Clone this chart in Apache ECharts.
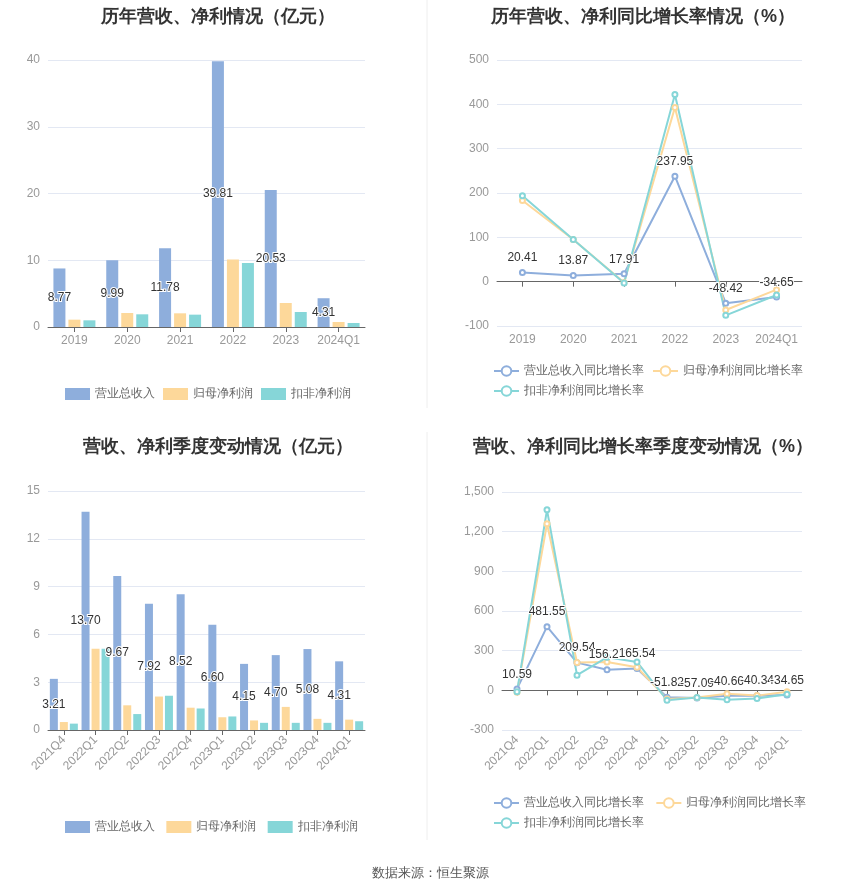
<!DOCTYPE html>
<html><head><meta charset="utf-8">
<script src="https://cdn.jsdelivr.net/npm/echarts@6/dist/echarts.min.js"></script>
<style>html,body{margin:0;padding:0;background:#fff}#c{width:850px;height:891px}</style>
</head><body><div id="c"></div>
<script>
const years = ['2019','2020','2021','2022','2023','2024Q1'];
const yRevenue = [8.77, 9.99, 11.78, 39.81, 20.53, 4.31];
const yNetProfit = [1.1, 2.1, 2.05, 10.1, 3.6, 0.75];
const yDeducted = [1.0, 1.9, 1.85, 9.6, 2.25, 0.6];
const yRevGrowth = [20.41, 13.87, 17.91, 237.95, -48.42, -34.65];
const yNetGrowth = [183, 95, -2, 393, -64, -18];
const yDedGrowth = [194, 95, -3, 422, -76, -30];

const quarters = ['2021Q4','2022Q1','2022Q2','2022Q3','2022Q4','2023Q1','2023Q2','2023Q3','2023Q4','2024Q1'];
const qRevenue = [3.21, 13.70, 9.67, 7.92, 8.52, 6.60, 4.15, 4.70, 5.08, 4.31];
const qNetProfit = [0.5, 5.1, 1.55, 2.1, 1.4, 0.8, 0.6, 1.45, 0.7, 0.65];
const qDeducted = [0.4, 5.1, 1.0, 2.15, 1.35, 0.85, 0.45, 0.45, 0.45, 0.55];
const qRevGrowth = [10.59, 481.55, 209.54, 156.21, 165.54, -51.82, -57.09, -40.66, -40.34, -34.65];
const qNetGrowth = [-15, 1260, 210, 215, 175, -65, -55, -25, -40, -10];
const qDedGrowth = [-10, 1365, 115, 250, 215, -75, -55, -72, -62, -30];

const C = ['#8eaedc', '#fdd89a', '#86d6d8'];
const axisLabel = {color:'#999', fontSize:12};
const splitLine = {lineStyle:{color:'#e3e8f3'}};
function xAx(i, data, rot){return {type:'category', gridIndex:i, data, axisTick:{show:true, alignWithLabel:true, lineStyle:{color:'#666'}}, axisLine:{lineStyle:{color:'#666'}}, axisLabel:Object.assign({}, axisLabel, rot?{rotate:45, interval:0}:{interval:0})};}
function yAx(i, min, max, interval, fmt){return {type:'value', gridIndex:i, min, max, interval, axisLabel:Object.assign({}, axisLabel, fmt?{formatter:v=>v.toLocaleString('en-US')}:{}), splitLine, axisLine:{show:false}, axisTick:{show:false}};}
const barLabel = {show:true, position:'inside', color:'#333', fontSize:12, textBorderColor:'#fff', textBorderWidth:2, formatter:p=>p.value.toFixed(2)};
function bar(name, data, i, ci, lab){return {type:'bar', name, data, xAxisIndex:i, yAxisIndex:i, barWidth:12, barGap:'25%', itemStyle:{color:C[ci]}, label: lab?barLabel:{show:false}};}
function line(name, data, i, ci, lab){return {type:'line', name, data, xAxisIndex:i, yAxisIndex:i, symbol:'emptyCircle', symbolSize:5, lineStyle:{color:C[ci], width:2}, itemStyle:{color:C[ci]}, label: lab?{show:true, position:'top', color:'#333', fontSize:12, textBorderColor:'#fff', textBorderWidth:2, formatter:p=>p.value.toFixed(2)}:{show:false}};}
const titleStyle = {fontSize:18, fontWeight:'bold', color:'#333'};
const legText = {color:'#666', fontSize:12};

const option = {
  animation:false,
  title:[
    {text:'历年营收、净利情况（亿元）', left:213, top:3, textAlign:'center', textStyle:titleStyle},
    {text:'历年营收、净利同比增长率情况（%）', left:638, top:3, textAlign:'center', textStyle:titleStyle},
    {text:'营收、净利季度变动情况（亿元）', left:213, top:433, textAlign:'center', textStyle:titleStyle},
    {text:'营收、净利同比增长率季度变动情况（%）', left:638, top:433, textAlign:'center', textStyle:titleStyle},
    {text:'数据来源：恒生聚源', left:425, top:862, textAlign:'center', textStyle:{fontSize:13, color:'#555', fontWeight:'normal'}}
  ],
  graphic:[{type:'line', shape:{x1:427, y1:0, x2:427, y2:408}, style:{stroke:'#eee'}},
           {type:'line', shape:{x1:427, y1:432, x2:427, y2:840}, style:{stroke:'#eee'}}],
  legend:[
    {left:60, top:383, itemWidth:25, itemHeight:12, textStyle:legText, data:['营业总收入','归母净利润','扣非净利润'], icon:'rect'},
    {left:488, top:360, width:330, itemWidth:25, itemHeight:12, textStyle:legText, data:['营业总收入同比增长率','归母净利润同比增长率','扣非净利润同比增长率']},
    {left:60, top:816, itemWidth:25, itemHeight:12, textStyle:legText, data:['营业总收入 ','归母净利润 ','扣非净利润 '], icon:'rect'},
    {left:488, top:792, width:330, itemWidth:25, itemHeight:12, textStyle:legText, data:['营业总收入同比增长率 ','归母净利润同比增长率 ','扣非净利润同比增长率 ']}
  ],
  grid:[
    {left:48, top:60, width:317, height:267},
    {left:497, top:60, width:305, height:266},
    {left:48, top:491, width:317, height:239},
    {left:502, top:492, width:300, height:238}
  ],
  xAxis:[xAx(0, years), xAx(1, years), xAx(2, quarters, true), xAx(3, quarters, true)],
  yAxis:[yAx(0,0,40,10), yAx(1,-100,500,100), yAx(2,0,15,3), yAx(3,-300,1500,300,true)],
  series:[
    bar('营业总收入', yRevenue, 0, 0, true), bar('归母净利润', yNetProfit, 0, 1), bar('扣非净利润', yDeducted, 0, 2),
    line('营业总收入同比增长率', yRevGrowth, 1, 0, true), line('归母净利润同比增长率', yNetGrowth, 1, 1), line('扣非净利润同比增长率', yDedGrowth, 1, 2),
    Object.assign(bar('营业总收入 ', qRevenue, 2, 0, true), {barWidth:8}), Object.assign(bar('归母净利润 ', qNetProfit, 2, 1), {barWidth:8}), Object.assign(bar('扣非净利润 ', qDeducted, 2, 2), {barWidth:8}),
    line('营业总收入同比增长率 ', qRevGrowth, 3, 0, true), line('归母净利润同比增长率 ', qNetGrowth, 3, 1), line('扣非净利润同比增长率 ', qDedGrowth, 3, 2)
  ]
};
echarts.init(document.getElementById('c')).setOption(option);
</script></body></html>
